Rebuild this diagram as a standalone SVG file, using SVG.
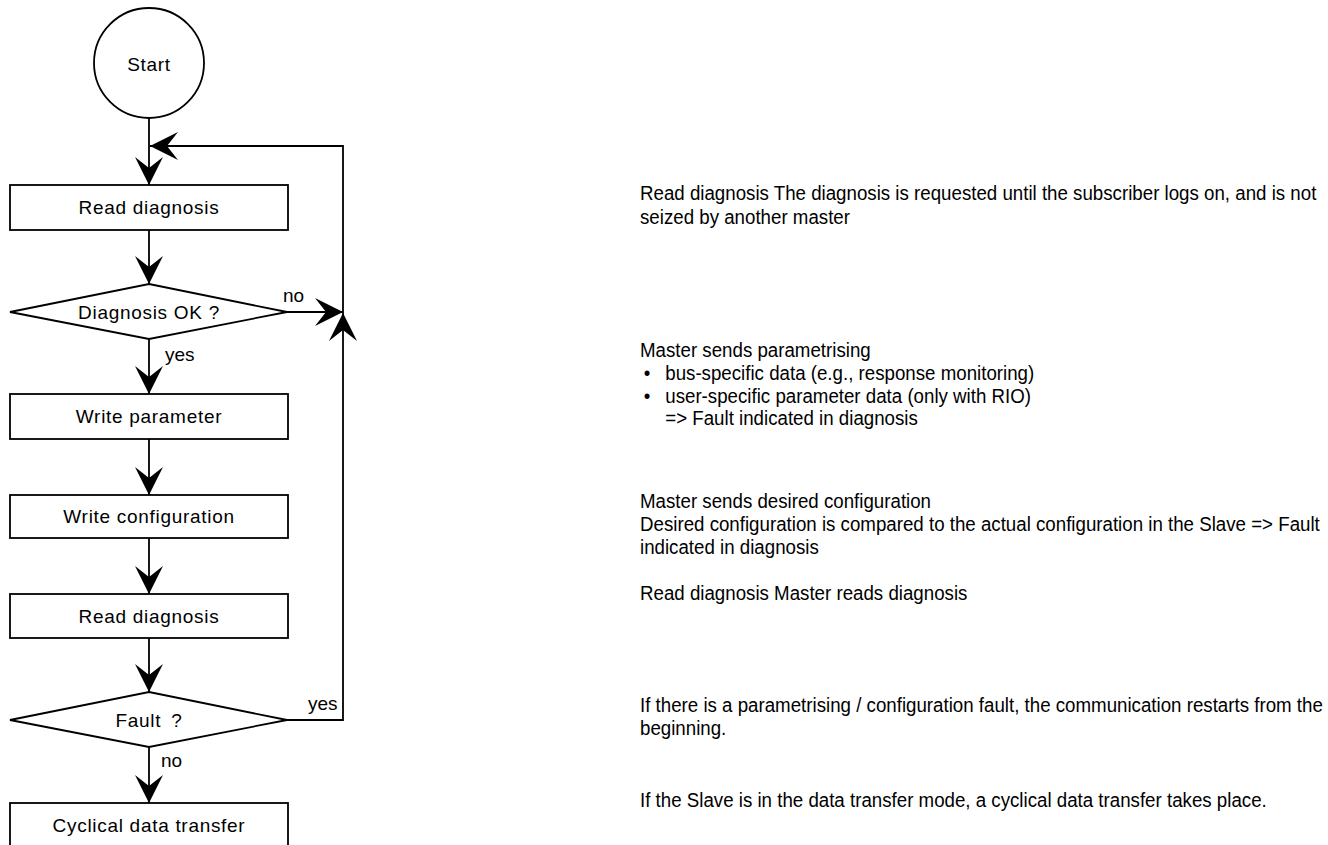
<svg xmlns="http://www.w3.org/2000/svg" width="1328" height="845" viewBox="0 0 1328 845">
<style>
.shape{fill:#fff;stroke:#000;stroke-width:1.8}
.lbl{font-family:"Liberation Sans",Arial,sans-serif;font-size:19px;letter-spacing:0.7px;fill:#000;text-anchor:middle}
.small{font-family:"Liberation Sans",Arial,sans-serif;font-size:19px;fill:#000}
.txt{font-family:"Liberation Sans",Arial,sans-serif;font-size:20px;fill:#000}
.conn{fill:none;stroke:#000;stroke-width:1.8}
</style>
<defs>
<marker id="ah" markerUnits="userSpaceOnUse" markerWidth="32" markerHeight="32" viewBox="-30 -16 32 32" refX="0" refY="0" orient="auto">
<path d="M0,0 L-28,-14 L-17,0 L-28,14 Z" fill="#000"/>
</marker>
</defs>
<rect width="1328" height="845" fill="#fff"/>
<g id="connectors">
<path class="conn" d="M149,118 V185" marker-end="url(#ah)"/>
<path class="conn" d="M149,230 V284" marker-end="url(#ah)"/>
<path class="conn" d="M149,339 V394" marker-end="url(#ah)"/>
<path class="conn" d="M149,439 V495" marker-end="url(#ah)"/>
<path class="conn" d="M149,538 V594" marker-end="url(#ah)"/>
<path class="conn" d="M149,638 V692" marker-end="url(#ah)"/>
<path class="conn" d="M149,747 V803" marker-end="url(#ah)"/>
<path class="conn" d="M287,312 H343" marker-end="url(#ah)"/>
<path class="conn" d="M287,720 H343 V313" marker-end="url(#ah)"/>
<path class="conn" d="M343,313 V146 H150" marker-end="url(#ah)"/>
<text class="small" x="283" y="302">no</text>
<text class="small" x="165" y="361">yes</text>
<text class="small" x="308" y="710">yes</text>
<text class="small" x="161" y="767">no</text>
</g>
<g id="start">
<circle class="shape" cx="149" cy="63" r="55"/>
<text class="lbl" x="149" y="71">Start</text>
</g>
<g id="read-diagnosis-1">
<rect class="shape" x="10" y="185" width="278" height="45"/>
<text class="lbl" x="149" y="214">Read diagnosis</text>
</g>
<g id="diagnosis-ok">
<polygon class="shape" points="149,284 287,312 149,339 10,312"/>
<text class="lbl" x="149" y="319">Diagnosis OK ?</text>
</g>
<g id="write-parameter">
<rect class="shape" x="10" y="394" width="278" height="45"/>
<text class="lbl" x="149" y="423">Write parameter</text>
</g>
<g id="write-configuration">
<rect class="shape" x="10" y="495" width="278" height="43"/>
<text class="lbl" x="149" y="523">Write configuration</text>
</g>
<g id="read-diagnosis-2">
<rect class="shape" x="10" y="594" width="278" height="44"/>
<text class="lbl" x="149" y="623">Read diagnosis</text>
</g>
<g id="fault">
<polygon class="shape" points="149,692 287,720 149,747 10,720"/>
<text class="lbl" x="149" y="727">Fault <tspan dx="4">?</tspan></text>
</g>
<g id="cyclical-data-transfer">
<rect class="shape" x="10" y="803" width="278" height="60"/>
<text class="lbl" x="149" y="832">Cyclical data transfer</text>
</g>
<g id="descriptions" transform="translate(640,0) scale(0.935,1)">
<text class="txt" x="0" y="200">Read diagnosis The diagnosis is requested until the subscriber logs on, and is not</text>
<text class="txt" x="0" y="224">seized by another master</text>
<text class="txt" x="0" y="357">Master sends parametrising</text>
<text class="txt" x="4" y="380">•</text>
<text class="txt" x="27" y="380">bus-specific data (e.g., response monitoring)</text>
<text class="txt" x="4" y="403">•</text>
<text class="txt" x="27" y="403">user-specific parameter data (only with RIO)</text>
<text class="txt" x="27" y="425">=&gt; Fault indicated in diagnosis</text>
<text class="txt" x="0" y="508">Master sends desired configuration</text>
<text class="txt" x="0" y="531">Desired configuration is compared to the actual configuration in the Slave =&gt; Fault</text>
<text class="txt" x="0" y="554">indicated in diagnosis</text>
<text class="txt" x="0" y="600">Read diagnosis Master reads diagnosis</text>
<text class="txt" x="0" y="712">If there is a parametrising / configuration fault, the communication restarts from the</text>
<text class="txt" x="0" y="735">beginning.</text>
<text class="txt" x="0" y="807">If the Slave is in the data transfer mode, a cyclical data transfer takes place.</text>
</g>
</svg>
